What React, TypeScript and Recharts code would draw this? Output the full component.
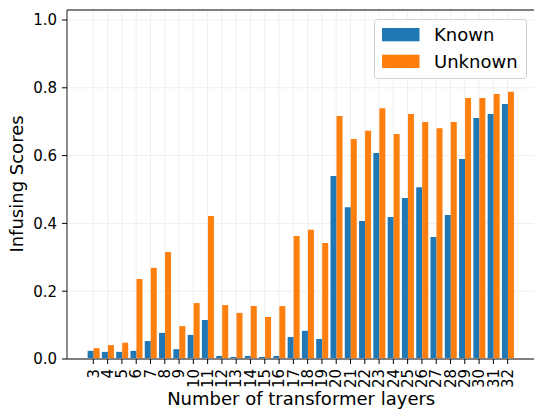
import React from "react";
import { BarChart, Bar, XAxis, YAxis, CartesianGrid, ReferenceLine, Label } from "recharts";

const layers = [3,4,5,6,7,8,9,10,11,12,13,14,15,16,17,18,19,20,21,22,23,24,25,26,27,28,29,30,31,32];
const known = [0.024,0.021,0.021,0.024,0.053,0.077,0.029,0.071,0.115,0.009,0.006,0.009,0.006,0.009,0.065,0.083,0.059,0.540,0.448,0.407,0.608,0.419,0.475,0.507,0.360,0.425,0.590,0.711,0.723,0.752];
const unknown = [0.032,0.041,0.048,0.236,0.269,0.316,0.097,0.165,0.422,0.159,0.136,0.156,0.124,0.156,0.363,0.381,0.342,0.717,0.649,0.673,0.740,0.664,0.723,0.699,0.681,0.699,0.770,0.770,0.782,0.788];
const yTicks = [0, 0.2, 0.4, 0.6, 0.8, 1.0];
const seriesNames = ["Known", "Unknown"];
const colors = ["#1f77b4", "#ff7f0e"];

const data = layers.map((l, i) => ({ layer: String(l), Known: known[i], Unknown: unknown[i] }));

const FONT = "DejaVu Sans";
const Y_TOP = 1.0295;

const XTick = (props: any) => {
  const { x, y, payload } = props;
  const ty = y + 3;
  return (
    <text
      x={x}
      y={ty}
      dy="0.35em"
      transform={`rotate(-90 ${x} ${ty})`}
      textAnchor="end"
      fontSize={15}
      fontFamily={FONT}
      fill="#000"
    >
      {payload.value}
    </text>
  );
};

const LegendBox = () => (
  <svg width={154} height={62} style={{ display: "block", position: "absolute", left: 374, top: 19 }}>
    <rect x={0.5} y={0.5} width={152} height={59} rx={3} ry={3} fill="rgba(255,255,255,0.85)" stroke="#d0d0d0" strokeWidth={1} />
    {seriesNames.map((n, i) => (
      <g key={n}>
        <rect x={8} y={9 + i * 26.7} width={37.5} height={13.3} fill={colors[i]} />
        <text x={60} y={15.6 + i * 26.7} dy="0.35em" fontSize={18} fontFamily={FONT} fill="#000">
          {n}
        </text>
      </g>
    ))}
  </svg>
);

export default function App() {
  return (
    <div style={{ position: "absolute", left: 0, top: 0, width: 534, height: 410, overflow: "hidden", background: "#fff" }}>
      <BarChart
        width={540}
        height={410}
        data={data}
        margin={{ top: 10, right: 4.6, bottom: 0, left: 0 }}
        barCategoryGap="10%"
        barGap={0}
      >
        <CartesianGrid stroke="#efefef" strokeWidth={1} />
        <XAxis
          dataKey="layer"
          type="category"
          interval={0}
          height={51}
          padding={{ left: 19.2, right: 20.6 }}
          axisLine={{ stroke: "#808080", strokeWidth: 2 }}
          tickLine={{ stroke: "#000", strokeWidth: 1 }}
          tickSize={5}
          tick={<XTick />}
        >
          <Label
            value="Number of transformer layers"
            position="insideBottom"
            offset={5}
            style={{ fontSize: 18, fontFamily: FONT, fill: "#000" }}
          />
        </XAxis>
        <YAxis
          type="number"
          domain={[0, Y_TOP]}
          ticks={yTicks}
          width={67}
          tickFormatter={(v: number) => v.toFixed(1)}
          axisLine={{ stroke: "#222", strokeWidth: 1 }}
          tickLine={{ stroke: "#000", strokeWidth: 1 }}
          tickSize={5}
          tickMargin={5}
          tick={{ fontSize: 15, fontFamily: FONT, fill: "#000" }}
          allowDataOverflow
        >
          <Label
            content={() => (
              <text
                x={23}
                y={184}
                transform="rotate(-90 23 184)"
                textAnchor="middle"
                fontSize={18}
                fontFamily={FONT}
                fill="#000"
              >
                Infusing Scores
              </text>
            )}
          />
        </YAxis>
        <ReferenceLine y={Y_TOP} stroke="#808080" strokeWidth={2} />
        <Bar dataKey="Known" fill={colors[0]} isAnimationActive={false} />
        <Bar dataKey="Unknown" fill={colors[1]} isAnimationActive={false} />
      </BarChart>
      <LegendBox />
    </div>
  );
}
